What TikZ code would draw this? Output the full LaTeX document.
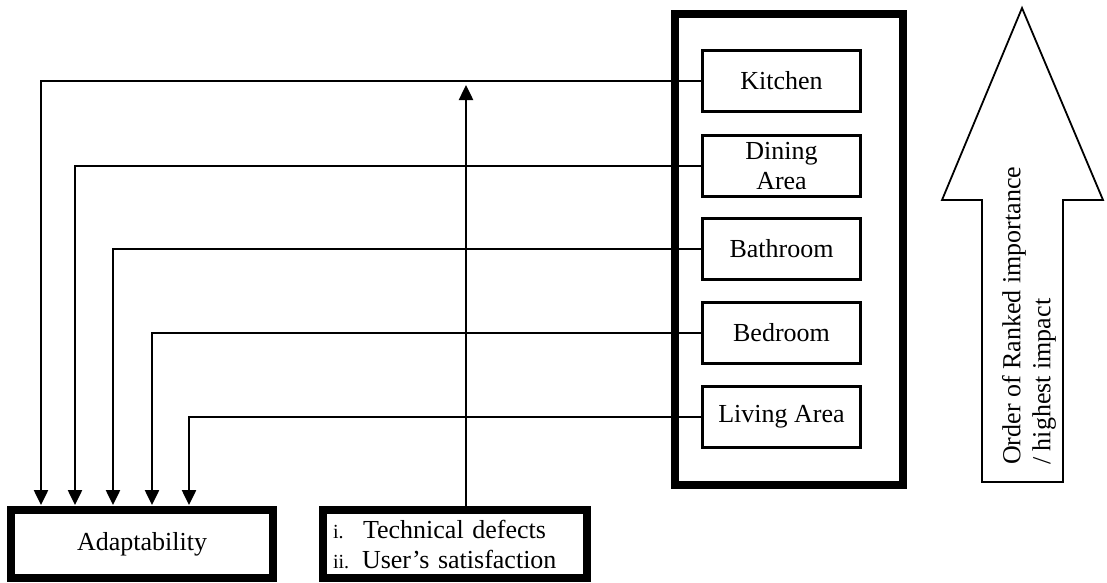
\documentclass[tikz,border=0pt]{standalone}
\usepackage{fontspec}
\setmainfont{Liberation Serif}
\usetikzlibrary{arrows.meta}
\begin{document}
\begin{tikzpicture}[x=1pt,y=-1pt,
  txt/.style={font=\fontsize{26}{30}\selectfont},
  thickbox/.style={draw,line width=8pt,inner sep=0pt,txt},
  roombox/.style={draw,line width=3pt,minimum width=158pt,minimum height=61pt,inner sep=0pt,align=center,txt},
  conn/.style={line width=2.5pt},
  arr/.style={conn,-{Triangle[length=15pt,width=14pt]}},
  bigarrow/.style={line width=1.8pt,line join=miter}
  ]
\useasboundingbox (0,0) rectangle (1107,582);
% container of the rooms
\node[thickbox,minimum width=228pt,minimum height=471pt] (panel) at (789,249.5) {};
\node[roombox] (kitchen) at (781.5,81) {Kitchen};
\node[roombox] (dining) at (781.5,166) {Dining\\Area};
\node[roombox] (bath) at (781.5,249) {Bathroom};
\node[roombox] (bed) at (781.5,333) {Bedroom};
\node[roombox] (living) at (781.5,417) {Living Area};
% bottom boxes
\node[thickbox,minimum width=262pt,minimum height=68pt] (adapt) at (142,544) {Adaptability};
\node[thickbox,minimum height=68pt,text width=244pt,inner xsep=10pt,align=left] (tech) at (455,544)
  {\makebox[30pt][l]{\fontsize{20}{30}\selectfont i.}Technical defects\\
   \makebox[29pt][l]{\fontsize{20}{30}\selectfont ii.}User’s satisfaction};
% connectors
\coordinate (d1) at (41,300);
\coordinate (d2) at (75,300);
\coordinate (d3) at (113,300);
\coordinate (d4) at (152,300);
\coordinate (d5) at (189,300);
\draw[arr] (kitchen.west) -| ([yshift=1pt]d1 |- adapt.north);
\draw[arr] (dining.west) -| ([yshift=1pt]d2 |- adapt.north);
\draw[arr] (bath.west) -| ([yshift=1pt]d3 |- adapt.north);
\draw[arr] (bed.west) -| ([yshift=1pt]d4 |- adapt.north);
\draw[arr] (living.west) -| ([yshift=1pt]d5 |- adapt.north);
\coordinate (up) at (466,85);
\draw[arr] (up |- tech.north) -- (up);
% ranking arrow
\draw[bigarrow] (1022,8) -- (1103,200) -- (1063,200) -- (1063,482) -- (982,482) -- (982,200) -- (942,200) -- cycle;
\node[txt,rotate=90,anchor=west,align=left,inner sep=0pt] (rank) at (1029,465)
  {Order of Ranked importance\\/ highest impact};
\end{tikzpicture}
\end{document}
